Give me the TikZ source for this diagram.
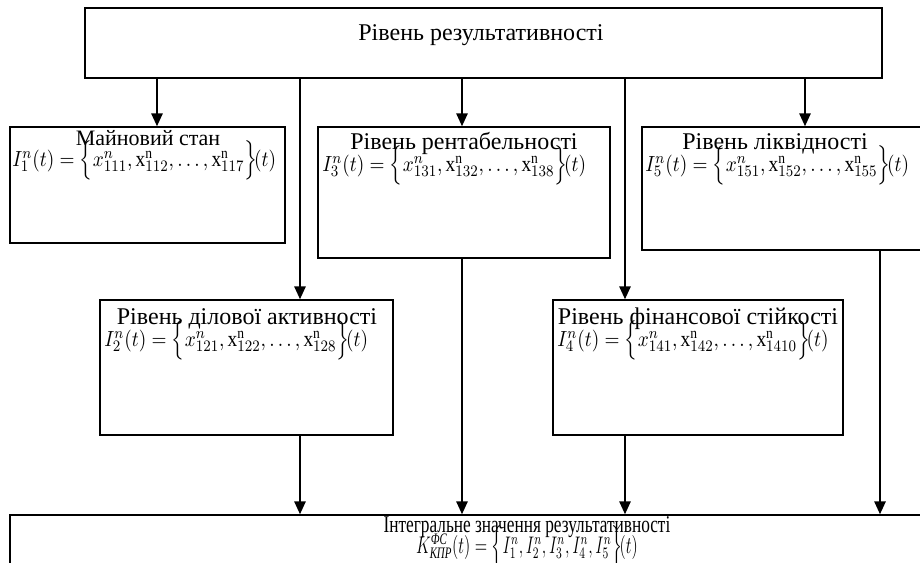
\documentclass[tikz,border=0pt]{standalone}
\usepackage{amsmath}
\usepackage{graphicx}
\usepackage{fontspec}
\setmainfont{Liberation Serif}
\usetikzlibrary{arrows.meta}

\begin{document}
\begin{tikzpicture}[x=0.5pt,y=-0.5pt]
\tikzstyle{box}=[draw=black,line width=0.6pt,rectangle,inner sep=0pt]
\tikzstyle{txt}=[inner sep=0pt,anchor=base,font=\fontsize{12}{14}\selectfont]
\tikzstyle{frm}=[inner sep=0pt,anchor=base west,font=\fontsize{11}{13}\selectfont]
\tikzstyle{arr}=[line width=1.3pt,-{Triangle[length=6.5pt,width=5.5pt]}]
\useasboundingbox (0,0) rectangle (920,562);
\clip (0,0) rectangle (920,562);
% boxes
\node[box,minimum width=398.5pt,minimum height=35pt] (top) at (483.5,43) {};
\node[box,minimum width=137.5pt,minimum height=58pt] (maino) at (147.5,185) {};
\node[box,minimum width=146pt,minimum height=65.5pt] (rent) at (464,192.5) {};
\node[box,minimum width=144pt,minimum height=61.5pt] (likv) at (786,188.5) {};
\node[box,minimum width=146.5pt,minimum height=67.5pt] (dilov) at (246.5,367.5) {};
\node[box,minimum width=145pt,minimum height=67.5pt] (stiyk) at (698,367.5) {};
\node[box,minimum width=460pt,minimum height=40pt] (integr) at (470,555) {};
% texts
\node[txt] (toptxt) at (481,40) {Рівень результативності};
\node[txt,font=\fontsize{11}{13}\selectfont] (mainot) at (148,145) {Майновий стан};
\node[frm] (mainof) at (12,166) {\scalebox{0.88}[1]{$I_1^n(t)=\Bigl\{x_{111}^n,\mathrm{x}_{112}^{\mathrm{n}},\ldots,\mathrm{x}_{117}^{\mathrm{n}}\Bigr\}\!(t)$}};
\node[txt] (rentt) at (464,149) {Рівень рентабельності};
\node[frm] (rentf) at (322,171) {\scalebox{0.88}[1]{$I_3^n(t)=\Bigl\{x_{131}^n,\mathrm{x}_{132}^{\mathrm{n}},\ldots,\mathrm{x}_{138}^{\mathrm{n}}\Bigr\}\!(t)$}};
\node[txt] (likvt) at (775,149) {Рівень ліквідності};
\node[frm] (likvf) at (645,171) {\scalebox{0.88}[1]{$I_5^n(t)=\Bigl\{x_{151}^n,\mathrm{x}_{152}^{\mathrm{n}},\ldots,\mathrm{x}_{155}^{\mathrm{n}}\Bigr\}\!(t)$}};
\node[txt] (dilovt) at (247,324) {Рівень ділової активності};
\node[frm] (dilovf) at (104,346) {\scalebox{0.88}[1]{$I_2^n(t)=\Bigl\{x_{121}^n,\mathrm{x}_{122}^{\mathrm{n}},\ldots,\mathrm{x}_{128}^{\mathrm{n}}\Bigr\}\!(t)$}};
\node[txt] (stiykt) at (698,324) {Рівень фінансової стійкості};
\node[frm] (stiykf) at (557,346) {\scalebox{0.88}[1]{$I_4^n(t)=\Bigl\{x_{141}^n,\mathrm{x}_{142}^{\mathrm{n}},\ldots,\mathrm{x}_{1410}^{\mathrm{n}}\Bigr\}\!(t)$}};
\node[txt] (integrt) at (527,532) {\scalebox{0.72}[1]{Інтегральне значення результативності}};
\node[txt] (integrf) at (527,553) {\scalebox{0.68}[1]{$K_{\textit{КПР}}^{\textit{ФС}}(t)=\Bigl\{I_1^n,I_2^n,I_3^n,I_4^n,I_5^n\Bigr\}\!(t)$}};
% arrows
\coordinate (c1) at (157,0);
\coordinate (c2) at (300,0);
\coordinate (c3) at (462,0);
\coordinate (c4) at (625,0);
\coordinate (c5) at (805,0);
\coordinate (c6) at (880,0);
\draw[arr] (top.south -| c1) -- (maino.north -| c1);
\draw[arr] (top.south -| c2) -- (dilov.north -| c2);
\draw[arr] (top.south -| c3) -- (rent.north -| c3);
\draw[arr] (top.south -| c4) -- (stiyk.north -| c4);
\draw[arr] (top.south -| c5) -- (likv.north -| c5);
\draw[arr] (dilov.south -| c2) -- (integr.north -| c2);
\draw[arr] (rent.south -| c3) -- (integr.north -| c3);
\draw[arr] (stiyk.south -| c4) -- (integr.north -| c4);
\draw[arr] (likv.south -| c6) -- (integr.north -| c6);
\end{tikzpicture}
\end{document}
